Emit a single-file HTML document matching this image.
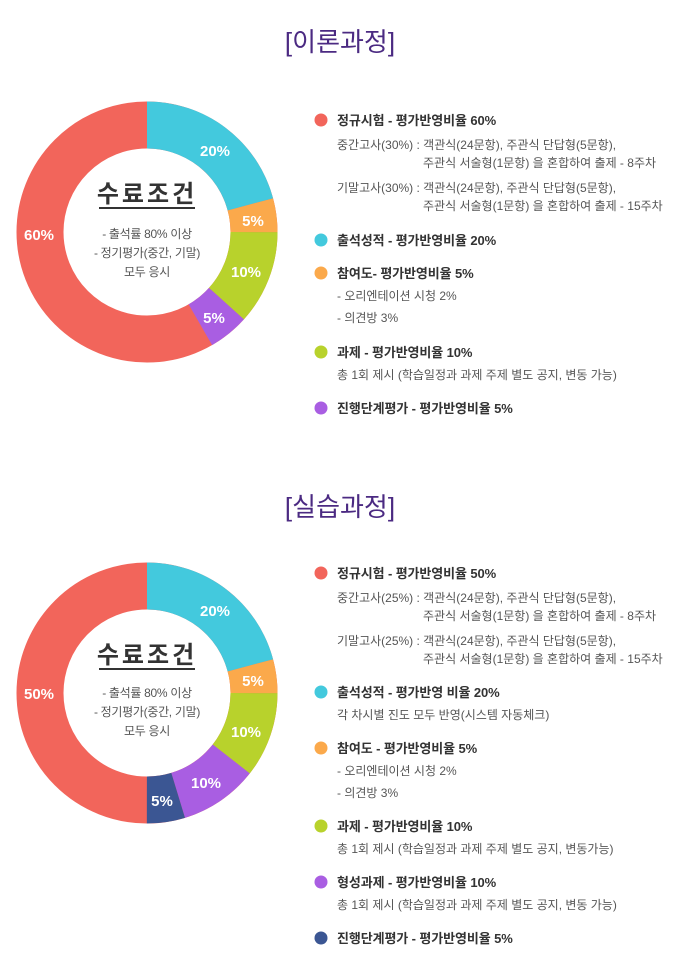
<!DOCTYPE html>
<html><head><meta charset="utf-8"><style>
html,body{margin:0;padding:0;background:#fff;}
svg{display:block;font-family:"Liberation Sans","Noto Sans CJK KR",sans-serif;}
.t{font-size:26px;fill:#4b2a82;}
.m{font-size:13px;fill:#333;font-weight:bold;letter-spacing:-0.1px;}
.s{font-size:12px;fill:#555;letter-spacing:0px;}
.p{font-size:15px;fill:#fff;font-weight:bold;}
.c{font-size:12px;fill:#555;letter-spacing:-0.3px;}
.h{font-size:24px;fill:#333;font-weight:bold;letter-spacing:3px;}
</style></head><body>
<svg width="680" height="980" viewBox="0 0 680 980">
<text class="t" x="340" y="51" text-anchor="middle">[이론과정]</text>
<g transform="translate(147,232) rotate(-90)" fill="none" stroke-width="47">
<circle r="107" stroke="#f2655b"/>
<circle r="107" stroke="#43c9dd" stroke-dasharray="140.06 1000"/>
<circle r="107" stroke="#fba94b" stroke-dasharray="0 140.06 28.01 1000"/>
<circle r="107" stroke="#b8d22c" stroke-dasharray="0 168.08 78.44 1000"/>
<circle r="107" stroke="#a95ee2" stroke-dasharray="0 246.51 33.62 1000"/>
</g>
<text class="p" x="215" y="156" text-anchor="middle">20%</text>
<text class="p" x="253" y="226" text-anchor="middle">5%</text>
<text class="p" x="246" y="277" text-anchor="middle">10%</text>
<text class="p" x="214" y="323" text-anchor="middle">5%</text>
<text class="p" x="39" y="240" text-anchor="middle">60%</text>
<text class="h" x="147" y="202" text-anchor="middle">수료조건</text>
<rect x="99" y="207" width="96" height="2" fill="#333"/>
<text class="c" x="147" y="238" text-anchor="middle">- 출석률 80% 이상</text>
<text class="c" x="147" y="257" text-anchor="middle">- 정기평가(중간, 기말)</text>
<text class="c" x="147" y="276" text-anchor="middle">모두 응시</text>

<circle cx="321" cy="120" r="6.5" fill="#f2655b"/>
<text class="m" x="337" y="125">정규시험 - 평가반영비율 60%</text>
<text class="s" x="337" y="149">중간고사(30%) : 객관식(24문항), 주관식 단답형(5문항),</text>
<text class="s" x="423" y="167">주관식 서술형(1문항) 을 혼합하여 출제 - 8주차</text>
<text class="s" x="337" y="192">기말고사(30%) : 객관식(24문항), 주관식 단답형(5문항),</text>
<text class="s" x="423" y="210">주관식 서술형(1문항) 을 혼합하여 출제 - 15주차</text>
<circle cx="321" cy="240" r="6.5" fill="#43c9dd"/>
<text class="m" x="337" y="245">출석성적 - 평가반영비율 20%</text>
<circle cx="321" cy="273" r="6.5" fill="#fba94b"/>
<text class="m" x="337" y="278">참여도- 평가반영비율 5%</text>
<text class="s" x="337" y="300">- 오리엔테이션 시청 2%</text>
<text class="s" x="337" y="322">- 의견방 3%</text>
<circle cx="321" cy="352" r="6.5" fill="#b8d22c"/>
<text class="m" x="337" y="357">과제 - 평가반영비율 10%</text>
<text class="s" x="337" y="379">총 1회 제시 (학습일정과 과제 주제 별도 공지, 변동 가능)</text>
<circle cx="321" cy="408" r="6.5" fill="#a95ee2"/>
<text class="m" x="337" y="413">진행단계평가 - 평가반영비율 5%</text>

<text class="t" x="340" y="516" text-anchor="middle">[실습과정]</text>
<g transform="translate(147,693) rotate(-90)" fill="none" stroke-width="47">
<circle r="107" stroke="#f2655b"/>
<circle r="107" stroke="#43c9dd" stroke-dasharray="140.06 1000"/>
<circle r="107" stroke="#fba94b" stroke-dasharray="0 140.06 28.01 1000"/>
<circle r="107" stroke="#b8d22c" stroke-dasharray="0 168.08 70.97 1000"/>
<circle r="107" stroke="#a95ee2" stroke-dasharray="0 239.04 65.36 1000"/>
<circle r="107" stroke="#3b5693" stroke-dasharray="0 304.4 31.75 1000"/>
</g>
<text class="p" x="215" y="616" text-anchor="middle">20%</text>
<text class="p" x="253" y="686" text-anchor="middle">5%</text>
<text class="p" x="246" y="737" text-anchor="middle">10%</text>
<text class="p" x="206" y="788" text-anchor="middle">10%</text>
<text class="p" x="162" y="806" text-anchor="middle">5%</text>
<text class="p" x="39" y="699" text-anchor="middle">50%</text>
<text class="h" x="147" y="663" text-anchor="middle">수료조건</text>
<rect x="99" y="668" width="96" height="2" fill="#333"/>
<text class="c" x="147" y="697" text-anchor="middle">- 출석률 80% 이상</text>
<text class="c" x="147" y="716" text-anchor="middle">- 정기평가(중간, 기말)</text>
<text class="c" x="147" y="735" text-anchor="middle">모두 응시</text>

<circle cx="321" cy="573" r="6.5" fill="#f2655b"/>
<text class="m" x="337" y="578">정규시험 - 평가반영비율 50%</text>
<text class="s" x="337" y="602">중간고사(25%) : 객관식(24문항), 주관식 단답형(5문항),</text>
<text class="s" x="423" y="620">주관식 서술형(1문항) 을 혼합하여 출제 - 8주차</text>
<text class="s" x="337" y="645">기말고사(25%) : 객관식(24문항), 주관식 단답형(5문항),</text>
<text class="s" x="423" y="663">주관식 서술형(1문항) 을 혼합하여 출제 - 15주차</text>
<circle cx="321" cy="692" r="6.5" fill="#43c9dd"/>
<text class="m" x="337" y="697">출석성적 - 평가반영 비율 20%</text>
<text class="s" x="337" y="719">각 차시별 진도 모두 반영(시스템 자동체크)</text>
<circle cx="321" cy="748" r="6.5" fill="#fba94b"/>
<text class="m" x="337" y="753">참여도 - 평가반영비율 5%</text>
<text class="s" x="337" y="775">- 오리엔테이션 시청 2%</text>
<text class="s" x="337" y="797">- 의견방 3%</text>
<circle cx="321" cy="826" r="6.5" fill="#b8d22c"/>
<text class="m" x="337" y="831">과제 - 평가반영비율 10%</text>
<text class="s" x="337" y="853">총 1회 제시 (학습일정과 과제 주제 별도 공지, 변동가능)</text>
<circle cx="321" cy="882" r="6.5" fill="#a95ee2"/>
<text class="m" x="337" y="887">형성과제 - 평가반영비율 10%</text>
<text class="s" x="337" y="909">총 1회 제시 (학습일정과 과제 주제 별도 공지, 변동 가능)</text>
<circle cx="321" cy="938" r="6.5" fill="#3b5693"/>
<text class="m" x="337" y="943">진행단계평가 - 평가반영비율 5%</text>
</svg>
</body></html>
